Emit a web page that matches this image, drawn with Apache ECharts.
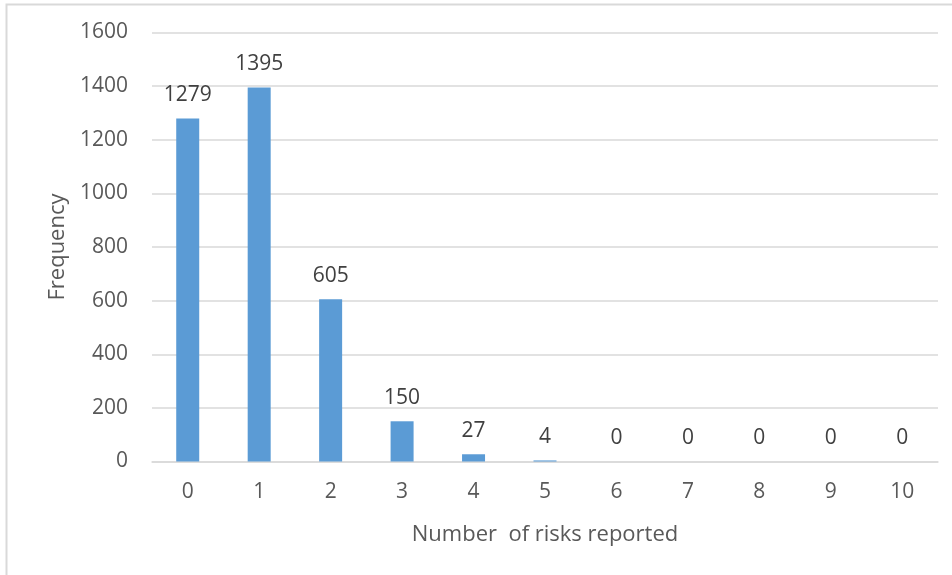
<!DOCTYPE html>
<html>
<head>
<meta charset="utf-8">
<script src="https://cdn.jsdelivr.net/npm/echarts@6/dist/echarts.min.js"></script>
<style>
  html, body { margin: 0; padding: 0; background: #fff; }
  #chart { width: 952px; height: 575px; }
</style>
</head>
<body>
<div id="chart"></div>
<script>
// Distribution of how many risks each respondent reported
const categories = ['0', '1', '2', '3', '4', '5', '6', '7', '8', '9', '10'];
const frequency = [1279, 1395, 605, 150, 27, 4, 0, 0, 0, 0, 0];
const yTicks = [0, 200, 400, 600, 800, 1000, 1200, 1400, 1600];

const FONT = 'Open Sans';
const chart = echarts.init(document.getElementById('chart'), null, { renderer: 'canvas' });

chart.setOption({
  animation: false,
  backgroundColor: '#ffffff',
  graphic: [{
    type: 'rect',
    shape: { x: 6.5, y: 4.5, width: 1000, height: 1000 },
    style: { fill: 'none', stroke: '#d9d9d9', lineWidth: 2 },
    silent: true
  }],
  grid: { left: 152, right: 14, top: 32.5, bottom: 113.5, containLabel: false },
  xAxis: {
    type: 'category',
    data: categories,
    name: 'Number  of risks reported',
    nameLocation: 'middle',
    nameGap: 62,
    nameTextStyle: { color: '#595959', fontFamily: FONT, fontSize: 22 },
    axisLine: { show: true, lineStyle: { color: '#d9d9d9', width: 1.5 } },
    axisTick: { show: false },
    axisLabel: { color: '#595959', fontFamily: FONT, fontSize: 21, margin: 20 }
  },
  yAxis: {
    type: 'value',
    min: yTicks[0],
    max: yTicks[yTicks.length - 1],
    interval: yTicks[1] - yTicks[0],
    name: 'Frequency',
    nameLocation: 'middle',
    nameGap: 80,
    nameTextStyle: { color: '#595959', fontFamily: FONT, fontSize: 22 },
    axisLine: { show: false },
    axisTick: { show: false },
    splitLine: { lineStyle: { color: '#d9d9d9', width: 1.5 } },
    axisLabel: {
      color: '#595959', fontFamily: FONT, fontSize: 21, margin: 24,
      formatter: (v) => String(v)
    }
  },
  series: [{
    type: 'bar',
    data: frequency,
    barWidth: 23,
    itemStyle: { color: '#5b9bd5' },
    label: {
      show: true,
      position: 'top',
      distance: 13,
      color: '#404040',
      fontFamily: FONT,
      fontSize: 21
    }
  }]
});
</script>
</body>
</html>
